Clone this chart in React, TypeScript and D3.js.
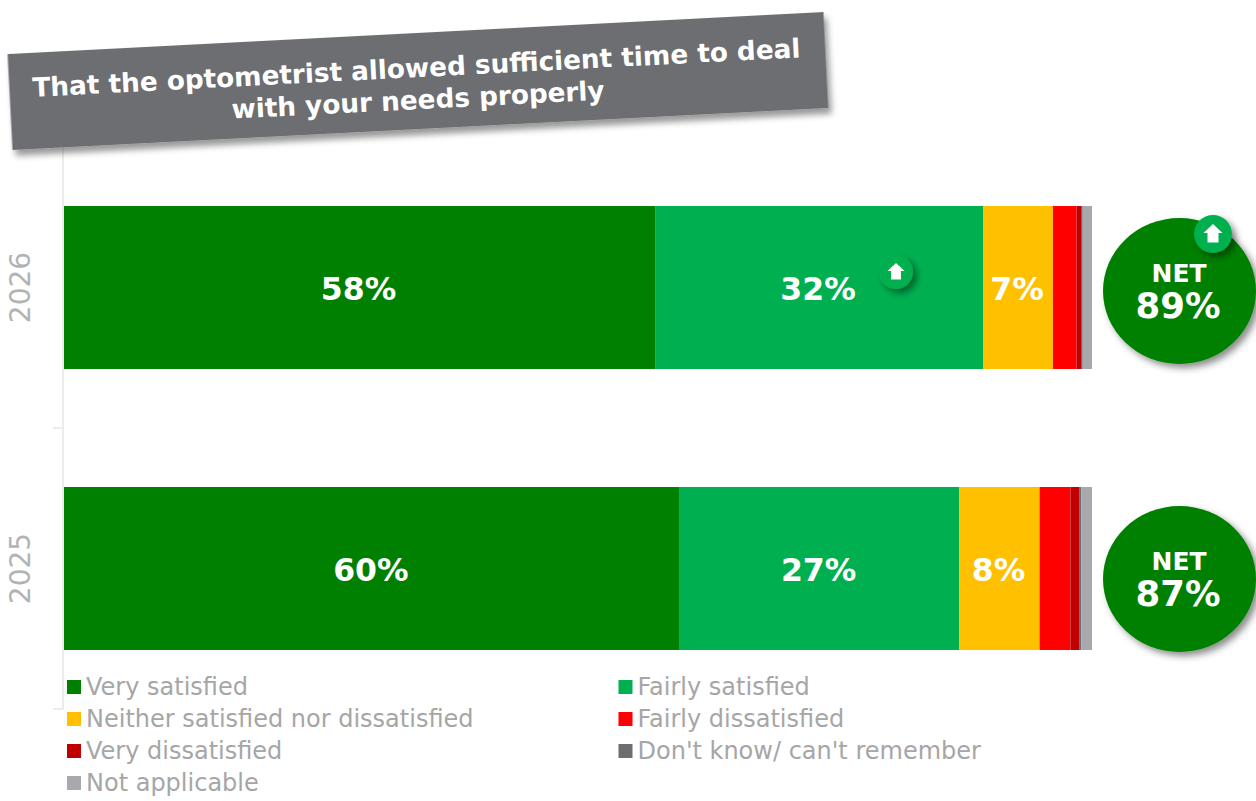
import React from "react";
import * as d3 from "d3";

const years = ["2026", "2025"];
const seriesNames = [
  "Very satisfied",
  "Fairly satisfied",
  "Neither satisfied nor dissatisfied",
  "Fairly dissatisfied",
  "Very dissatisfied",
  "Don't know/ can't remember",
  "Not applicable",
];
const seriesColors = ["#008000", "#00b050", "#ffc000", "#ff0000", "#c00000", "#6d6e71", "#a7a9ac"];

const verySatisfied = [57.5, 59.9];
const fairlySatisfied = [31.9, 27.2];
const neither = [6.8, 7.8];
const fairlyDissatisfied = [2.3, 3.0];
const veryDissatisfied = [0.5, 0.9];
const dontKnow = [0.1, 0.15];
const notApplicable = [0.9, 1.05];
const seriesValues = [verySatisfied, fairlySatisfied, neither, fairlyDissatisfied, veryDissatisfied, dontKnow, notApplicable];

const netLabels = [89, 87];
const titleLines = ["That the optometrist allowed sufficient time to deal", "with your needs properly"];

const FONT = "'DejaVu Sans', Verdana, sans-serif";

const rows = years.map((year, i) => {
  const row: Record<string, number | string> = { year };
  seriesNames.forEach((name, s) => (row[name] = seriesValues[s][i]));
  return row;
});
const stacked = d3.stack<any>().keys(seriesNames)(rows);

const x = d3.scaleLinear().domain([0, 100]).range([64, 1092]);
const y = d3.scaleBand().domain(years).range([147, 709]).paddingInner(0.42).paddingOuter(0.21);
const pct = (v: number) => `${d3.format(".0f")(v)}%`;

const legendRow = d3.scalePoint<number>().domain(d3.range(4)).range([687, 783]);
const bubbleCentres = [291, 579];

function UpBadge({ cx, cy, r }: { cx: number; cy: number; r: number }) {
  const s = r / 19;
  return (
    <g transform={`translate(${cx},${cy})`}>
      <circle r={r} fill="#00b050" filter="url(#softShadow)" />
      <path
        transform={`scale(${s})`}
        d="M0,-10 L9.5,-1 L5.5,-1 L5.5,8.5 L-5.5,8.5 L-5.5,-1 L-9.5,-1 Z"
        fill="#fff"
      />
    </g>
  );
}

export default function App() {
  const bandMid = (yr: string) => (y(yr) as number) + y.bandwidth() / 2;
  return (
    <svg width={1256} height={801} style={{ position: "absolute", left: 0, top: 0, background: "#fff" }} fontFamily={FONT}>
      <defs>
        <filter id="softShadow" x="-40%" y="-40%" width="190%" height="190%">
          <feDropShadow dx="4" dy="4" stdDeviation="3.5" floodColor="#000" floodOpacity="0.45" />
        </filter>
        <filter id="bannerShadow" x="-5%" y="-20%" width="110%" height="150%">
          <feDropShadow dx="3" dy="6" stdDeviation="3" floodColor="#000" floodOpacity="0.4" />
        </filter>
      </defs>

      {/* category axis */}
      <g stroke="#ececec" strokeWidth={2} fill="none">
        <line x1={63} x2={63} y1={147} y2={709} />
        <line x1={53} x2={63} y1={428} y2={428} />
        <line x1={53} x2={63} y1={709} y2={709} />
      </g>
      {years.map((yr) => (
        <text
          key={yr}
          transform={`translate(30,${bandMid(yr)}) rotate(-90)`}
          textAnchor="middle"
          fontSize={28}
          fill="#b3b3b3"
        >
          {yr}
        </text>
      ))}

      {/* stacked bars */}
      {stacked.map((layer, s) => (
        <g key={layer.key} fill={seriesColors[s]}>
          {layer.map((d, i) => (
            <rect
              key={years[i]}
              x={x(d[0])}
              y={y(years[i])}
              width={x(d[1]) - x(d[0])}
              height={y.bandwidth()}
            />
          ))}
        </g>
      ))}
      {stacked.map((layer) =>
        layer.map((d, i) =>
          d[1] - d[0] >= 5 ? (
            <text
              key={layer.key + years[i]}
              x={(x(d[0]) + x(d[1])) / 2 - 1}
              y={bandMid(years[i]) + 1}
              dy="0.36em"
              textAnchor="middle"
              fontSize={31.5}
              fontWeight="bold"
              fill="#fff"
            >
              {pct(d[1] - d[0])}
            </text>
          ) : null
        )
      )}
      <UpBadge cx={896} cy={272} r={17} />

      {/* NET bubbles */}
      {years.map((yr, i) => (
        <g key={yr} transform={`translate(1179.5,${bubbleCentres[i]})`}>
          <ellipse rx={76.5} ry={73} fill="#008000" filter="url(#softShadow)" />
          <text x={-0.5} textAnchor="middle" y={-9.5} fontSize={25} fontWeight="bold" fill="#fff">NET</text>
          <text x={-1.5} textAnchor="middle" y={27} fontSize={35.5} fontWeight="bold" fill="#fff">{netLabels[i]}%</text>
        </g>
      ))}
      <UpBadge cx={1213} cy={234} r={19} />

      {/* legend */}
      {seriesNames.map((name, s) => {
        const col = s % 2;
        const cy = legendRow(Math.floor(s / 2)) as number;
        return (
          <g key={name} transform={`translate(${col ? 618.5 : 67},${cy})`}>
            <rect x={0} y={-7} width={14} height={14} fill={seriesColors[s]} />
            <text x={19} y={-0.5} dy="0.36em" fontSize={24} fill="#a6a6a6">{name}</text>
          </g>
        );
      })}

      {/* heading banner */}
      <g transform="translate(418,81) rotate(-2.95)">
        <rect x={-408.5} y={-48} width={817} height={96} fill="#6d6e71" filter="url(#bannerShadow)" />
        <text textAnchor="middle" fontSize={26.3} fontWeight="bold" fill="#fff">
          {titleLines.map((line, i) => (
            <tspan key={line} x={-1} y={i === 0 ? -4 : 28}>{line}</tspan>
          ))}
        </text>
      </g>
    </svg>
  );
}
